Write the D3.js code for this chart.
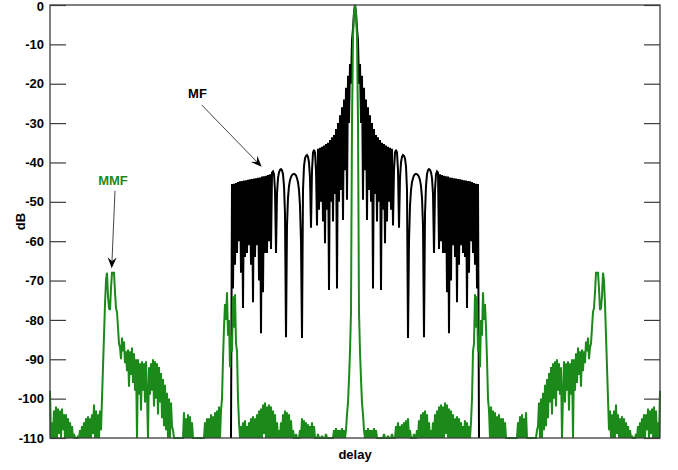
<!DOCTYPE html>
<html>
<head>
<meta charset="utf-8">
<script src="https://cdn.jsdelivr.net/npm/d3@7"></script>
<style>
  html, body { margin: 0; padding: 0; background: #fff; }
  svg { display: block; }
  text { font-family: "Liberation Sans", Arial, sans-serif; font-weight: bold; }
</style>
</head>
<body>
<svg id="chart" width="678" height="470"></svg>
<script>
// Y axis ticks (dB)
const tickValues = [0, -10, -20, -30, -40, -50, -60, -70, -80, -90, -100, -110];
const tickLabels = ["0", "-10", "-20", "-30", "-40", "-50", "-60", "-70", "-80", "-90", "-100", "-110"];

// Delay range in samples, centred on the zero-lag peak
const delayRange = [-305, 305];
const dbRange = [-110, 0];

// Matched filter (MF) response in dB, one sample per lag, from lag -124 up to lag 0.
// The autocorrelation is symmetric, so positive lags reuse these values.
const mfStartLag = -124;
const mfHalf = [
  -110, -45.5, -72, -45.4, -66, -45.2, -63, -45, -60, -44.8,
  -68, -44.7, -77, -44.6, -64, -44.5, -63, -44.4, -61, -44.3,
  -66, -44.2, -75.5, -44.1, -64, -44, -61, -43.9, -70, -43.8,
  -83.4, -43.6, -73, -43.5, -63, -43.4, -63, -43.2, -60, -43,
  -62, -42.6, -42.3, -43, -47, -63, -48, -44, -42.5, -41.9,
  -41.7, -42, -43, -46, -53, -84.4, -56, -49, -46, -44.5,
  -43.7, -43.2, -43, -42.9, -43, -43.3, -44, -45, -47, -51,
  -60, -84.6, -47, -41, -39, -38.3, -38.1, -38.6, -40, -44,
  -56.6, -42, -37.5, -36.8, -37.5, -42, -56, -36.5, -52, -36.3,
  -50, -36, -55, -35.7, -60.5, -35.3, -52, -35, -72.4, -34.3,
  -50, -33.6, -55, -33, -48, -31.5, -72, -30, -50, -28,
  -47, -26, -54.6, -24, -42, -21, -49.5, -18, -30, -15,
  -20, -9, -6, -2, 0
];

// Mismatched filter (MMF) response in dB, one sample per lag, from lag -305 up to lag 0.
const mmfStartLag = -305;
const mmfHalf = [
  -98, -110, -106, -110, -103, -110, -102, -110, -102.5, -109,
  -103, -110, -102.5, -108, -104, -110, -104, -110, -105, -110,
  -106, -110, -107, -110, -109, -110, -110, -110, -109.5, -110,
  -108, -110, -107, -110, -106, -110, -105, -110, -104.5, -110,
  -105, -110, -104, -109, -101.5, -110, -103, -110, -104, -110,
  -103, -108, -100, -92, -84, -76, -70, -68, -74, -77,
  -77.5, -72, -68, -68, -68, -73, -77, -78, -82, -86,
  -87, -90, -84.5, -88, -85.5, -91, -88, -93, -87.5, -97,
  -88, -94, -87, -96, -88.5, -98, -90, -110, -90, -99,
  -91, -103, -90.5, -98, -91, -101, -90.5, -99, -110, -92,
  -99, -91, -98, -90, -102, -90.5, -100, -91, -104, -92,
  -101, -93.5, -105, -95, -107, -96.5, -108, -98.5, -110, -100,
  -110, -101, -107, -108, -110, -110, -110, -110, -110, -110,
  -110, -110, -110, -110, -103.5, -110, -105, -110, -104, -110,
  -104.5, -110, -106, -110, -110, -110, -110, -110, -110, -110,
  -110, -110, -110, -110, -110, -106, -110, -105, -110, -105,
  -110, -104, -110, -104.5, -110, -103.5, -110, -103, -110, -102,
  -110, -103, -100, -90, -82, -76, -80, -73, -84, -80,
  -92, -84, -88, -74, -82, -73.5, -86, -88, -100, -106,
  -110, -107, -110, -106, -110, -105.5, -110, -107, -110, -106,
  -110, -105, -110, -104.5, -110, -105, -110, -104, -110, -103,
  -110, -102.5, -110, -101.5, -109, -101, -110, -102, -110, -101.5,
  -110, -102, -110, -103, -110, -104, -110, -106, -110, -108,
  -110, -106, -110, -104, -110, -103, -110, -103.5, -110, -104,
  -110, -105.5, -110, -108, -110, -110, -109, -110, -110, -110,
  -108, -110, -105, -110, -105.5, -110, -106, -110, -106.5, -110,
  -107, -110, -106, -110, -107, -110, -110, -110, -109, -110,
  -110, -110, -109.5, -110, -110, -110, -109, -110, -110, -110,
  -110, -110, -110, -110, -108, -110, -107.5, -110, -108, -110,
  -108, -110, -107.5, -110, -108, -110, -108, -104, -101, -95,
  -88, -78, -30, -8, -2, 0
];

// Annotation labels with arrows, in data units (delay, dB)
const annotations = [
  { text: "MF",  color: "#000000", textAt: [-157.5, -23.6], from: [-153.3, -25.4], to: [-93.3, -41.1] },
  { text: "MMF", color: "#1b8a1b", textAt: [-242, -45.7],   from: [-240, -47.2],   to: [-243.3, -66.9] }
];

// Build a full symmetric series from a half-series ending at lag 0
function mirror(startLag, half) {
  const pts = half.map((v, i) => [startLag + i, v]);
  for (let i = half.length - 2; i >= 0; i--) pts.push([-(startLag + i), half[i]]);
  return pts;
}

const mfSeries = mirror(mfStartLag, mfHalf);
const mmfSeries = mirror(mmfStartLag, mmfHalf);

const svg = d3.select("#chart");
const plotLeft = 50, plotRight = 660, plotTop = 5, plotBottom = 438;

const x = d3.scaleLinear().domain(delayRange).range([plotLeft, plotRight]);
const y = d3.scaleLinear().domain(dbRange).range([plotBottom, plotTop]);

const axisColor = "#3c3c3c";
const green = "#1b8a1b";

// Traces
const line = d3.line().x(d => x(d[0])).y(d => y(d[1]));

svg.append("path")
  .datum(mfSeries)
  .attr("d", line)
  .attr("fill", "none")
  .attr("stroke", "#000")
  .attr("stroke-width", 2)
  .attr("stroke-linejoin", "miter")
  .attr("stroke-miterlimit", 2);

svg.append("path")
  .datum(mmfSeries)
  .attr("d", line)
  .attr("fill", "none")
  .attr("stroke", green)
  .attr("stroke-width", 2)
  .attr("stroke-linejoin", "miter")
  .attr("stroke-miterlimit", 2);

// Left axis with labels, ticks pointing inward
const yAxisLeft = d3.axisLeft(y)
  .tickValues(tickValues)
  .tickFormat((d, i) => tickLabels[i])
  .tickSize(-16)
  .tickPadding(6);

const gl = svg.append("g").attr("transform", `translate(${plotLeft},0)`).call(yAxisLeft);
gl.select(".domain").remove();
gl.selectAll(".tick line").attr("stroke", axisColor).attr("stroke-width", 1.2);
gl.selectAll(".tick text")
  .attr("fill", "#000")
  .style("font-size", "13px")
  .style("font-weight", "bold")
  .style("font-family", "'Liberation Sans', Arial, sans-serif");
// keep the top label inside the canvas
gl.selectAll(".tick text").filter(d => d === 0).attr("dy", "0.45em");

// Right axis: ticks only
const yAxisRight = d3.axisRight(y)
  .tickValues(tickValues)
  .tickFormat("")
  .tickSize(-16);

const gr = svg.append("g").attr("transform", `translate(${plotRight},0)`).call(yAxisRight);
gr.select(".domain").remove();
gr.selectAll(".tick line").attr("stroke", axisColor).attr("stroke-width", 1.2);

// Plot frame
svg.append("rect")
  .attr("x", plotLeft).attr("y", plotTop)
  .attr("width", plotRight - plotLeft).attr("height", plotBottom - plotTop)
  .attr("fill", "none")
  .attr("stroke", axisColor)
  .attr("stroke-width", 1.3);

// Axis titles
svg.append("text")
  .attr("x", (plotLeft + plotRight) / 2)
  .attr("y", 459)
  .attr("text-anchor", "middle")
  .style("font-size", "13px")
  .text("delay");

svg.append("text")
  .attr("transform", `translate(25,${(plotTop + plotBottom) / 2}) rotate(-90)`)
  .attr("text-anchor", "middle")
  .style("font-size", "13px")
  .text("dB");

// Annotations: label, thin shaft and a filled stealth arrowhead
annotations.forEach(a => {
  const x1 = x(a.from[0]), y1 = y(a.from[1]);
  const x2 = x(a.to[0]), y2 = y(a.to[1]);
  const ang = Math.atan2(y2 - y1, x2 - x1);
  const len = 11, half = 4.5, notch = 7;
  const ux = Math.cos(ang), uy = Math.sin(ang);
  const px = -uy, py = ux;
  const bx = x2 - ux * len, by = y2 - uy * len;
  const nx = x2 - ux * notch, ny = y2 - uy * notch;

  svg.append("line")
    .attr("x1", x1).attr("y1", y1)
    .attr("x2", nx).attr("y2", ny)
    .attr("stroke", "#444")
    .attr("stroke-width", 1);

  svg.append("path")
    .attr("d", `M${x2},${y2} L${bx + px * half},${by + py * half} L${nx},${ny} L${bx - px * half},${by - py * half} Z`)
    .attr("fill", "#000");

  svg.append("text")
    .attr("x", x(a.textAt[0]))
    .attr("y", y(a.textAt[1]))
    .attr("text-anchor", "middle")
    .attr("fill", a.color)
    .style("font-size", "13px")
    .text(a.text);
});
</script>
</body>
</html>
